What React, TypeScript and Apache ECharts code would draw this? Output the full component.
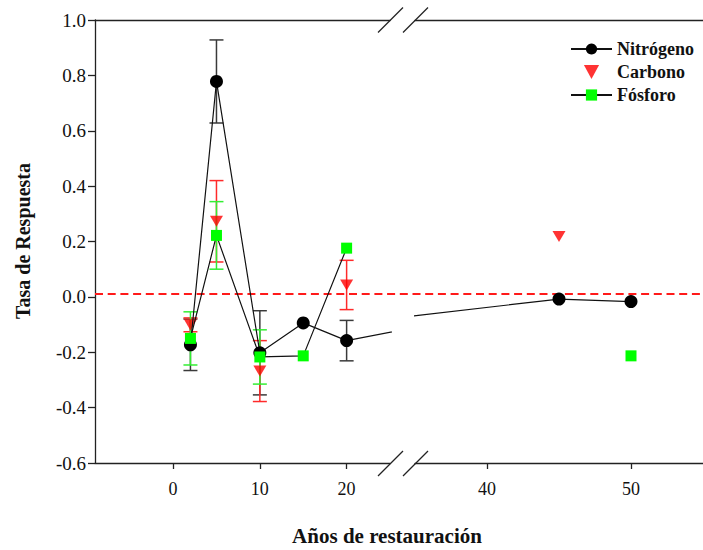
import React, { useEffect, useRef } from "react";
import * as echarts from "echarts";

// ---- data ----
const years = [2, 5, 10, 15, 20, 45, 50];
const nitrogeno = [-0.173, 0.778, -0.202, -0.094, -0.158, -0.008, -0.017];
const nitrogenoErr = [0.093, 0.15, 0.152, null, 0.073, null, null];
const carbono = [-0.101, 0.273, -0.268, null, 0.043, 0.218, null];
const carbonoErr = [0.025, 0.147, 0.11, null, 0.089, null, null];
const fosforo = [-0.15, 0.222, -0.217, -0.213, 0.176, null, -0.213];
const fosforoErr = [0.096, 0.122, 0.098, null, null, null, null];
const referencia = 0.01;

const yMin = -0.6;
const yMax = 1.0;
const yInterval = 0.2;
const xLeftRange = [-9, 25];
const xRightRange = [35, 55];
const xTicksLeft = [0, 10, 20];
const xTicksRight = [40, 50];

const FONT = "Times New Roman";
const DOWN_TRI = "path://M0,0L13,0L6.5,12Z";

export default function App() {
  const ref = useRef<HTMLDivElement>(null);

  useEffect(() => {
    if (!ref.current) return;
    const chart = echarts.init(ref.current, null, { renderer: "svg" });

    const G0 = { left: 95, top: 20, width: 295, height: 443 };
    const G1 = { left: 415, top: 20, width: 297, height: 443 };
    const G2 = { left: 95, top: 20, width: 617, height: 443 };

    const pairs = (vals: (number | null)[]) => years.map((x, i) => [x, vals[i]]);
    const errRows = (vals: (number | null)[], errs: (number | null)[]) =>
      years
        .map((x, i) =>
          vals[i] != null && errs[i] != null
            ? [x, (vals[i] as number) - (errs[i] as number), (vals[i] as number) + (errs[i] as number)]
            : null
        )
        .filter((r) => r != null);

    const errSeries = (name: string, rows: any[], color: string) => ({
      type: "custom",
      name: name + "-err",
      xAxisIndex: 0,
      yAxisIndex: 0,
      silent: true,
      clip: true,
      data: rows,
      encode: { x: 0, y: [1, 2] },
      renderItem: (params: any, api: any) => {
        const x = api.value(0);
        const lo = api.coord([x, api.value(1)]);
        const hi = api.coord([x, api.value(2)]);
        const w = 7;
        const style = { stroke: color, lineWidth: 1.5 };
        return {
          type: "group",
          children: [
            { type: "line", shape: { x1: hi[0], y1: hi[1], x2: lo[0], y2: lo[1] }, style },
            { type: "line", shape: { x1: hi[0] - w, y1: hi[1], x2: hi[0] + w, y2: hi[1] }, style },
            { type: "line", shape: { x1: lo[0] - w, y1: lo[1], x2: lo[0] + w, y2: lo[1] }, style },
          ],
        };
      },
    });

    const seriesFor = (gi: number) => [
      ...(gi === 0 ? [errSeries("Nitrógeno", errRows(nitrogeno, nitrogenoErr), "#3a3a3a")] : []),
      {
        type: "line",
        name: "Nitrógeno",
        xAxisIndex: gi,
        yAxisIndex: gi,
        data: pairs(nitrogeno),
        clip: true,
        symbol: "circle",
        symbolSize: 13,
        itemStyle: { color: "#000" },
        lineStyle: { color: "#111", width: 1.2 },
      },
      ...(gi === 0 ? [errSeries("Carbono", errRows(carbono, carbonoErr), "#ff2a2a")] : []),
      {
        type: "scatter",
        name: "Carbono",
        xAxisIndex: gi,
        yAxisIndex: gi,
        data: pairs(carbono).filter((p) => p[1] != null),
        clip: true,
        symbol: DOWN_TRI,
        symbolKeepAspect: true,
        symbolSize: [13, 12],
        itemStyle: { color: "#ff0000" },
      },
      ...(gi === 0 ? [errSeries("Fósforo", errRows(fosforo, fosforoErr), "#33ee33")] : []),
      {
        type: "line",
        name: "Fósforo",
        xAxisIndex: gi,
        yAxisIndex: gi,
        data: pairs(fosforo),
        clip: true,
        connectNulls: false,
        symbol: "rect",
        symbolSize: 11,
        itemStyle: { color: "#00ff00" },
        lineStyle: { color: "#111", width: 1.2 },
      },
    ];

    const axisLine = { show: true, onZero: false, lineStyle: { color: "#222", width: 1.3 } };

    const bottomX = (gi: number, range: number[], ticks: number[]) => ({
      type: "value",
      gridIndex: gi,
      position: "bottom",
      min: range[0],
      max: range[1],
      axisLine,
      axisTick: { show: true, inside: false, length: 6, customValues: ticks, lineStyle: { color: "#222", width: 1.3 } },
      axisLabel: {
        show: true,
        customValues: ticks,
        margin: 17,
        color: "#111",
        fontSize: 18,
        fontFamily: FONT,
      },
      splitLine: { show: false },
    });

    const topX = (gi: number, range: number[]) => ({
      type: "value",
      gridIndex: gi,
      position: "top",
      min: range[0],
      max: range[1],
      axisLine,
      axisTick: { show: false },
      axisLabel: { show: false },
      splitLine: { show: false },
    });

    const brk = [
      [390.5, 20],
      [415.5, 20],
      [390.5, 463.5],
      [415.5, 463.5],
    ];

    const option: any = {
      animation: false,
      backgroundColor: "#fff",
      textStyle: { fontFamily: FONT },
      grid: [
        { ...G0, containLabel: false },
        { ...G1, containLabel: false },
        { ...G2, containLabel: false },
      ],
      xAxis: [
        bottomX(0, xLeftRange, xTicksLeft),
        bottomX(1, xRightRange, xTicksRight),
        topX(0, xLeftRange),
        topX(1, xRightRange),
        { type: "value", gridIndex: 2, min: 0, max: 1, show: false },
      ],
      yAxis: [
        {
          type: "value",
          gridIndex: 0,
          min: yMin,
          max: yMax,
          interval: yInterval,
          axisLine,
          axisTick: { show: true, inside: false, length: 7, lineStyle: { color: "#222", width: 1.3 } },
          axisLabel: {
            margin: 9,
            color: "#111",
            fontSize: 19,
            fontFamily: FONT,
            formatter: (v: number) => v.toFixed(1),
          },
          splitLine: { show: false },
        },
        { type: "value", gridIndex: 1, min: yMin, max: yMax, interval: yInterval, show: false },
        { type: "value", gridIndex: 2, min: yMin, max: yMax, interval: yInterval, show: false },
      ],
      legend: {
        data: ["Nitrógeno", { name: "Carbono", icon: DOWN_TRI }, "Fósforo"],
        orient: "vertical",
        left: 570,
        top: 40,
        padding: 0,
        itemWidth: 41,
        itemHeight: 14,
        itemGap: 5,
        symbolKeepAspect: true,
        textStyle: { fontFamily: FONT, fontWeight: "bold", fontSize: 18, color: "#111" },
        selectedMode: false,
      },
      graphic: [
        {
          type: "text",
          x: 23,
          y: 241,
          rotation: Math.PI / 2,
          style: {
            text: "Tasa de Respuesta",
            font: `bold 20px ${FONT}`,
            fill: "#111",
            align: "center",
            verticalAlign: "middle",
          },
        },
        {
          type: "text",
          x: 387,
          y: 536,
          style: {
            text: "Años de restauración",
            font: `bold 21px ${FONT}`,
            fill: "#111",
            align: "center",
            verticalAlign: "middle",
          },
        },
        ...brk.map(([cx, cy]) => ({
          type: "line",
          shape: { x1: cx - 12.5, y1: cy + 12.5, x2: cx + 12.5, y2: cy - 12.5 },
          style: { stroke: "#222", lineWidth: 1.3 },
        })),
      ],
      series: [
        {
          type: "line",
          name: "referencia",
          xAxisIndex: 4,
          yAxisIndex: 2,
          data: [
            [0, referencia],
            [1, referencia],
          ],
          symbol: "none",
          silent: true,
          lineStyle: { color: "#ff1a1a", width: 2, type: [8, 4.7] },
        },
        ...seriesFor(0),
        ...seriesFor(1),
      ],
    };

    chart.setOption(option);
    return () => chart.dispose();
  }, []);

  return (
    <div
      ref={ref}
      style={{ position: "fixed", left: 0, top: 0, width: 703, height: 550, background: "#fff" }}
    />
  );
}
